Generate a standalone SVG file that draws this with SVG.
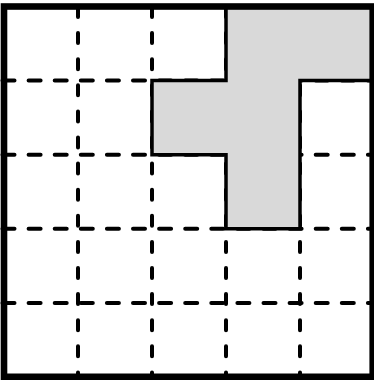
<svg xmlns="http://www.w3.org/2000/svg" width="374" height="380" viewBox="0 0 374 380">
<style>
.h{stroke:#000;stroke-width:4;stroke-linecap:round;stroke-dasharray:12 14.1;fill:none}
.v{stroke:#000;stroke-width:4;stroke-linecap:round;stroke-dasharray:10 16.1;fill:none}
.shape{fill:#d9d9d9;stroke:#000;stroke-width:3.5;stroke-linejoin:miter}
.frame{fill:none;stroke:#000;stroke-width:6.6}
</style>
<rect width="374" height="380" fill="#fff"/>
<g id="grid">
<line class="h" x1="2.5" y1="80.6" x2="373" y2="80.6"/>
<line class="h" x1="2.5" y1="154.7" x2="373" y2="154.7"/>
<line class="h" x1="2.5" y1="228.8" x2="373" y2="228.8"/>
<line class="h" x1="2.5" y1="302.9" x2="373" y2="302.9"/>
<line class="v" x1="78" y1="7" x2="78" y2="377"/>
<line class="v" x1="152" y1="7" x2="152" y2="377"/>
<line class="v" x1="226" y1="7" x2="226" y2="377"/>
<line class="v" x1="300" y1="7" x2="300" y2="377"/>
</g>
<g id="shaded-region">
<polygon class="shape" points="226,6.5 372.5,6.5 372.5,80.6 300,80.6 300,228.8 226,228.8 226,154.7 152,154.7 152,80.6 226,80.6"/>
</g>
<g id="frame">
<rect class="frame" x="4" y="6.5" width="368.7" height="370.3"/>
</g>
</svg>
